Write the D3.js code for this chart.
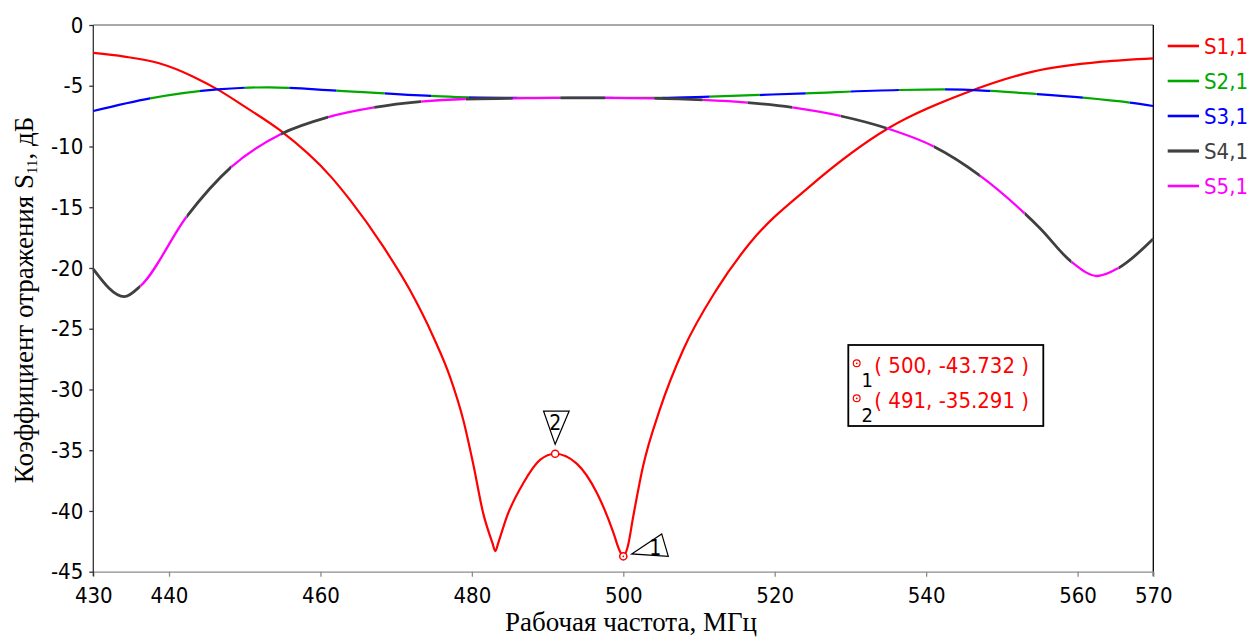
<!DOCTYPE html>
<html><head><meta charset="utf-8">
<script src="https://cdn.jsdelivr.net/npm/d3@7"></script>
<style>
html,body{margin:0;padding:0;background:#fff;}
svg{display:block;}
.sans{font-family:"DejaVu Sans Condensed","DejaVu Sans",sans-serif;font-stretch:condensed;}
.serif{font-family:"Liberation Serif","Times New Roman",serif;}
</style></head><body>
<svg id="chart" width="1255" height="642"></svg>
<script>
// ---------------- data ----------------
const xTicks = [430, 440, 460, 480, 500, 520, 540, 560, 570];
const yTicks = [0, -5, -10, -15, -20, -25, -30, -35, -40, -45];
const seriesNames = ["S1,1", "S2,1", "S3,1", "S4,1", "S5,1"];
const seriesColors = ["#ff0000", "#00a800", "#0000ff", "#404040", "#ff00ff"];

const s1Freq = [430, 434.1, 438.7, 443.2, 446.4, 450.0, 454.6, 461.4, 463.9, 468.3, 471.8, 474.9, 477.1, 478.9, 480.2, 481.5, 482.7, 483.1, 483.5, 484.6, 486.8, 489.0, 491.0, 493.85, 496.5, 498.7, 499.4, 500.0, 500.6, 501.3, 502.6, 504.85, 507.9, 512.3, 516.7, 524.6, 535.0, 545.1, 554.1, 563.3, 570];
const s1Val  = [-2.3, -2.6, -3.15, -4.25, -5.3, -6.72, -8.64, -12.5, -14.4, -18.25, -21.8, -25.66, -28.95, -32.6, -36.2, -40.2, -42.6, -43.3, -42.6, -40.5, -37.7, -35.8, -35.29, -36.1, -38.5, -41.8, -43.1, -43.73, -42.9, -40.5, -36.35, -31.6, -26.75, -21.8, -17.97, -13.3, -8.5, -5.62, -3.84, -3.02, -2.74];

const s23Freq = [430, 437.5, 446.4, 453.2, 462.1, 474.6, 481.0, 490, 500, 505, 511.4, 524.1, 536.4, 542.5, 548.5, 554.6, 560.7, 566.9, 570];
const s2Val   = [-7.08, -6.04, -5.3, -5.13, -5.4, -5.84, -5.98, -6.0, -6.0, -6.0, -5.9, -5.62, -5.35, -5.3, -5.43, -5.68, -5.98, -6.39, -6.67];
const s3Val   = [-7.08, -6.04, -5.3, -5.13, -5.4, -5.84, -5.98, -6.0, -6.0, -6.0, -5.9, -5.62, -5.35, -5.3, -5.43, -5.68, -5.98, -6.39, -6.67];

const s45Freq = [430, 434.1, 436.2, 442.3, 448.2, 454.8, 460.9, 467.1, 473.2, 479.1, 485.3, 491, 497, 504.1, 510.5, 516.4, 522.3, 528.7, 534.8, 541.0, 547.1, 553.0, 555.0, 559.2, 562.6, 565.4, 570];
const s4Val   = [-20.1, -22.36, -21.5, -15.8, -11.7, -8.97, -7.6, -6.78, -6.3, -6.09, -6.04, -6.0, -6.0, -6.04, -6.17, -6.39, -6.78, -7.49, -8.5, -10.0, -12.4, -15.5, -16.7, -19.5, -20.66, -20.0, -17.6];
const s5Val   = [-20.1, -22.36, -21.5, -15.8, -11.7, -8.97, -7.6, -6.78, -6.3, -6.09, -6.04, -6.0, -6.0, -6.04, -6.17, -6.39, -6.78, -7.49, -8.5, -10.0, -12.4, -15.5, -16.7, -19.5, -20.66, -20.0, -17.6];

// frequencies where the visible trace of overlapping curves switches
const s23Switch = [437.5, 444.1, 450.0, 455.9, 462.1, 468.5, 474.6, 479.6, 486.0, 492.4, 498.7, 505.1, 511.4, 518.0, 524.1, 530.0, 536.4, 542.5, 548.5, 554.6, 560.7, 566.9];
const s45Switch = [436.2, 442.3, 448.2, 454.8, 461.0, 467.1, 473.3, 479.2, 485.4, 491.7, 497.6, 504.1, 510.5, 516.4, 522.3, 528.7, 534.8, 541.0, 547.1, 553.0, 559.2, 565.4];

const markerFreq  = [500, 491];
const markerVal   = [-43.732, -35.291];
const markerLabel = ["1", "2"];

const xTitle = "Рабочая частота, МГц";
const yTitleMain = "Коэффициент отражения S";
const yTitleSub = "11";
const yTitleEnd = ", дБ";

// ---------------- chart ----------------
const svg = d3.select("#chart");
const x = d3.scaleLinear().domain([430, 570]).range([93.3, 1153.3]);
const y = d3.scaleLinear().domain([-45, 0]).range([571.7, 25]);
const [x0, x1] = x.range();
const [yb, yt] = y.range();

// clip paths for alternating visibility
const defs = svg.append("defs");
function makeClip(id, switches, parity) {
  const b = [430, ...switches, 570];
  const cp = defs.append("clipPath").attr("id", id);
  for (let i = 0; i < b.length - 1; i++) {
    if (i % 2 === parity) {
      cp.append("rect")
        .attr("x", i === 0 ? x(b[i]) - 5 : x(b[i]))
        .attr("width", x(b[i + 1]) - x(b[i]) + (i === 0 || i === b.length - 2 ? 5 : 0))
        .attr("y", 0).attr("height", 642);
    }
  }
}
makeClip("clipS3", s23Switch, 0);
makeClip("clipS2", s23Switch, 1);
makeClip("clipS4", s45Switch, 0);
makeClip("clipS5", s45Switch, 1);

// frame
svg.append("line").attr("x1", x0).attr("x2", x1).attr("y1", yt).attr("y2", yt)
  .attr("stroke", "#8c8c8c").attr("stroke-width", 1.3);
svg.append("line").attr("x1", x1).attr("x2", x1).attr("y1", yt).attr("y2", yb + 4.5)
  .attr("stroke", "#000").attr("stroke-width", 1.3);

// x axis
const gx = svg.append("g").attr("transform", `translate(0,${yb})`)
  .call(d3.axisBottom(x).tickValues(xTicks).tickSize(5).tickSizeOuter(0).tickPadding(11).tickFormat(d => String(d)));
gx.select(".domain").attr("stroke", "#8c8c8c").attr("stroke-width", 1.3);
gx.selectAll(".tick line").attr("stroke", "#8c8c8c").attr("stroke-width", 1.3);
gx.selectAll(".tick text").attr("class", "sans").attr("font-size", 22).attr("fill", "#000");

// y axis
const gy = svg.append("g").attr("transform", `translate(${x0},0)`)
  .call(d3.axisLeft(y).tickValues(yTicks).tickSize(4).tickSizeOuter(0).tickPadding(6).tickFormat(d => String(d)));
gy.select(".domain").remove();
gy.selectAll(".tick line").attr("stroke", "#333").attr("stroke-width", 1.3);
gy.selectAll(".tick text").attr("class", "sans").attr("font-size", 22).attr("fill", "#000");
svg.append("line").attr("x1", x0).attr("x2", x0).attr("y1", yt).attr("y2", yb + 4.5)
  .attr("stroke", "#333").attr("stroke-width", 1.3);

// titles
svg.append("text").attr("class", "serif").attr("x", 631).attr("y", 631)
  .attr("text-anchor", "middle").attr("font-size", 27).attr("fill", "#000").text(xTitle);
const yt0 = svg.append("text").attr("class", "serif")
  .attr("transform", "translate(33,300) rotate(-90)")
  .attr("text-anchor", "middle").attr("font-size", 27).attr("fill", "#000");
yt0.append("tspan").text(yTitleMain);
yt0.append("tspan").attr("font-size", 15).attr("dy", 4).text(yTitleSub);
yt0.append("tspan").attr("dy", -4).text(yTitleEnd);

// series
const line = d3.line().x(d => x(d[0])).y(d => y(d[1])).curve(d3.curveMonotoneX);
function drawSeries(freq, val, color, width, clip) {
  const p = svg.append("path").datum(freq.map((f, i) => [f, val[i]]))
    .attr("d", line).attr("fill", "none").attr("stroke", color)
    .attr("stroke-width", width).attr("stroke-linejoin", "round");
  if (clip) p.attr("clip-path", `url(#${clip})`);
}
drawSeries(s1Freq, s1Val, seriesColors[0], 2.2, null);
drawSeries(s23Freq, s2Val, seriesColors[1], 2.2, "clipS2");
drawSeries(s23Freq, s3Val, seriesColors[2], 2.2, "clipS3");
drawSeries(s45Freq, s4Val, seriesColors[3], 2.8, "clipS4");
drawSeries(s45Freq, s5Val, seriesColors[4], 2.3, "clipS5");

// legend
const lg = svg.append("g");
seriesNames.forEach((n, i) => {
  const cy = 46 + i * 35;
  lg.append("line").attr("x1", 1167.7).attr("x2", 1199).attr("y1", cy).attr("y2", cy)
    .attr("stroke", seriesColors[i]).attr("stroke-width", i === 3 ? 3.2 : 2.6);
  lg.append("text").attr("class", "sans").attr("x", 1204).attr("y", cy + 8)
    .attr("font-size", 22).attr("fill", seriesColors[i]).text(n);
});

// markers on curve
markerFreq.forEach((f, i) => {
  const px = x(f), py = y(markerVal[i]);
  let tri, tx, ty;
  if (i === 0) {
    tri = [[px + 8.4, py - 2.4], [px + 38.4, py - 22.4], [px + 45, py]];
    tx = px + 32; ty = py - 1;
  } else {
    tri = [[px - 11.6, py - 42.7], [px + 14, py - 42.7], [px, py - 9.4]];
    tx = px; ty = py - 24;
  }
  svg.append("path").attr("d", "M" + tri.map(p => p.join(",")).join("L") + "Z")
    .attr("fill", "none").attr("stroke", "#000").attr("stroke-width", 1.2);
  svg.append("text").attr("class", "sans").attr("x", tx).attr("y", ty)
    .attr("text-anchor", "middle").attr("font-size", 21).attr("fill", "#000").text(markerLabel[i]);
  svg.append("circle").attr("cx", px).attr("cy", py).attr("r", 3.6)
    .attr("fill", "#fff").attr("stroke", "#ff0000").attr("stroke-width", 1.5);
  if (i === 0) svg.append("circle").attr("cx", px).attr("cy", py).attr("r", 0.9).attr("fill", "#ff0000");
});

// marker info box
svg.append("rect").attr("x", 848.3).attr("y", 345).attr("width", 195).attr("height", 81)
  .attr("fill", "#fff").attr("stroke", "#000").attr("stroke-width", 1.8);
markerFreq.forEach((f, i) => {
  const by = 373.3 + i * 35;
  svg.append("circle").attr("cx", 856.7).attr("cy", by - 10).attr("r", 3.4)
    .attr("fill", "none").attr("stroke", "#ff0000").attr("stroke-width", 1.2);
  svg.append("circle").attr("cx", 856.7).attr("cy", by - 10).attr("r", 0.9).attr("fill", "#ff0000");
  svg.append("text").attr("class", "sans").attr("x", 861.5).attr("y", by + 13.5)
    .attr("font-size", 20).attr("fill", "#000").text(markerLabel[i]);
  svg.append("text").attr("class", "sans").attr("x", 874.3).attr("y", by)
    .attr("font-size", 22).attr("fill", "#ff0000")
    .text(`( ${f}, ${markerVal[i].toFixed(3)} )`);
});
</script>
</body></html>
